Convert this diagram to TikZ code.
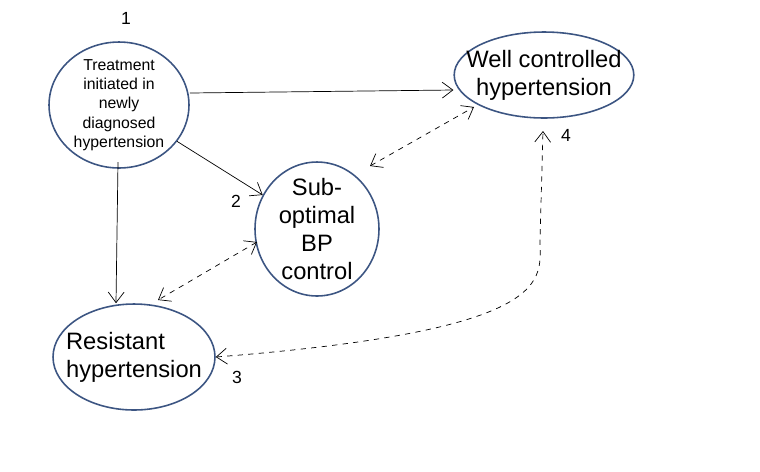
\documentclass[tikz,border=0pt]{standalone}
\usepackage{fontspec}
\setmainfont{Liberation Sans}
\usetikzlibrary{positioning,shapes,arrows,arrows.meta,calc}

\begin{document}
\begin{tikzpicture}[x=0.02cm, y=-0.02cm]
  \definecolor{edge}{RGB}{60,85,130}
  \tikzset{
    state/.style={ellipse, draw=edge, line width=0.9pt, align=center, inner sep=-8pt},
    link/.style={-{Straight Barb[length=6pt,width=9pt]}, thin},
    swap/.style={{Straight Barb[length=6pt,width=9pt]}-{Straight Barb[length=6pt,width=9pt]}, thin, dashed},
    num/.style={font=\normalsize}
  }
  \useasboundingbox (0,0) rectangle (760,471);

  % states
  \node[state, minimum width=2.8cm, minimum height=2.52cm, font=\small] (init) at (119,105)
    {Treatment\\initiated in\\newly\\diagnosed\\hypertension};
  \node[state, minimum width=3.16cm, minimum height=1.72cm, font=\fontsize{13.5}{16}\selectfont] (well) at (544,75)
    {Well controlled\\hypertension};
  \node[state, minimum width=2.48cm, minimum height=2.68cm, font=\fontsize{13.5}{16}\selectfont] (sub) at (317,229)
    {Sub-\\optimal\\BP\\control};
  \node[state, minimum width=3.24cm, minimum height=2.12cm, font=\fontsize{13.5}{16}\selectfont, align=left] (res) at (134,357)
    {Resistant\\hypertension};

  % numbers
  \node[num] (n1) at (126,18) {1};
  \node[num] (n2) at (236,201) {2};
  \node[num] (n3) at (237,377) {3};
  \node[num] (n4) at (566,135) {4};

  % transitions
  \draw[link] (init.east |- 0,93) -- (well.west |- 0,90);
  \draw[link] (init) -- (sub);
  \draw[link] (118,162) -- (res.north -| 116,0);
  \coordinate (s1) at (370,166);
  \coordinate (w1) at (474,107);
  \draw[swap] (s1) -- (w1);
  \coordinate (r1) at (158,300);
  \coordinate (s2) at (257,242);
  \draw[swap] (s2) -- (r1);
  \coordinate (wb) at (543,131);
  \draw[swap] (res.east) .. controls (560,330) and (540,280) .. (540,240) -- (wb);
\end{tikzpicture}
\end{document}
